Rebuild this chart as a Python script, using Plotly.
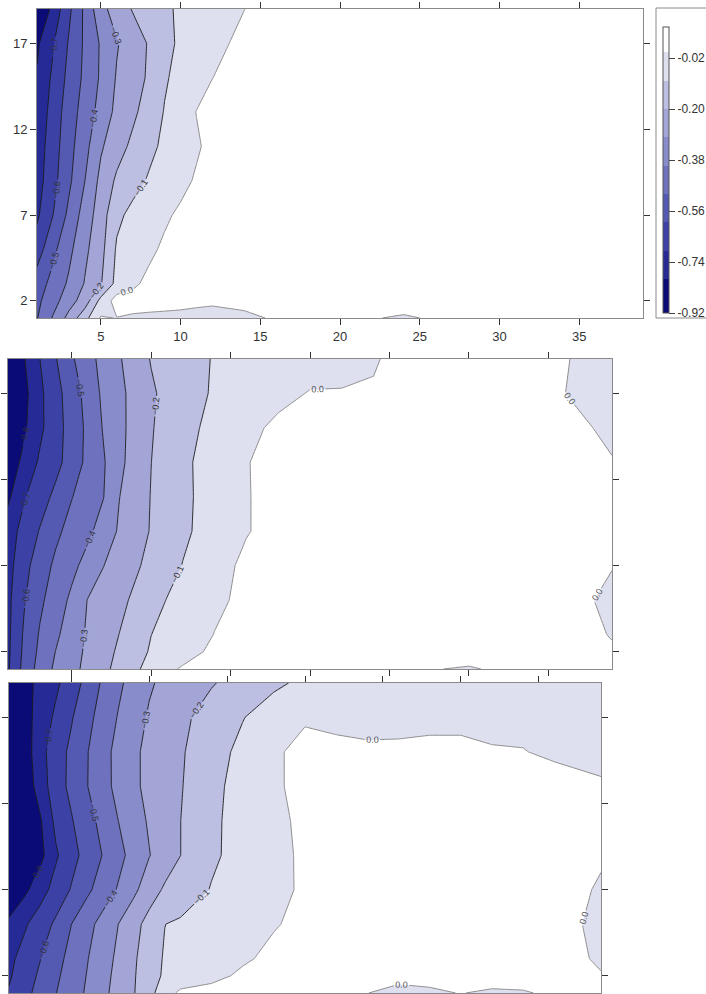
import plotly.graph_objects as go

# ---------------- data (grid nodes and estimated field values) ----------------
X_NODES = [1, 2, 3, 4, 5, 6, 7, 8, 9, 10, 11, 12, 14, 16, 18, 20, 22, 24, 26, 28, 30, 32, 34, 36, 39]
Y_NODES = [1, 2, 3, 5, 7, 9, 11, 13, 15, 17, 19]

Z_TOP = [
    [-0.505, -0.392, -0.269, -0.134, 0.008, -0.002, -0.010, -0.015, -0.020, -0.025, -0.030, -0.035, -0.015, 0.008, 0.020, 0.020, 0.005, -0.010, 0.010, 0.030, 0.040, 0.040, 0.040, 0.040, 0.040],
    [-0.523, -0.439, -0.343, -0.253, -0.070, 0.040, 0.030, 0.030, 0.030, 0.028, 0.020, 0.015, 0.020, 0.040, 0.050, 0.050, 0.045, 0.040, 0.050, 0.060, 0.060, 0.060, 0.060, 0.060, 0.060],
    [-0.550, -0.468, -0.385, -0.294, -0.208, -0.069, -0.016, 0.020, 0.040, 0.060, 0.070, 0.070, 0.070, 0.070, 0.070, 0.070, 0.070, 0.070, 0.070, 0.070, 0.070, 0.070, 0.070, 0.070, 0.070],
    [-0.650, -0.525, -0.426, -0.322, -0.233, -0.088, -0.054, -0.019, 0.015, 0.040, 0.060, 0.070, 0.080, 0.080, 0.080, 0.080, 0.080, 0.080, 0.080, 0.080, 0.080, 0.080, 0.080, 0.080, 0.080],
    [-0.717, -0.601, -0.477, -0.356, -0.250, -0.122, -0.074, -0.044, -0.014, 0.015, 0.040, 0.060, 0.080, 0.080, 0.080, 0.080, 0.080, 0.080, 0.080, 0.080, 0.080, 0.080, 0.080, 0.080, 0.080],
    [-0.744, -0.633, -0.520, -0.401, -0.273, -0.184, -0.135, -0.091, -0.058, -0.025, 0.010, 0.040, 0.070, 0.080, 0.080, 0.080, 0.080, 0.080, 0.080, 0.080, 0.080, 0.080, 0.080, 0.080, 0.080],
    [-0.753, -0.647, -0.535, -0.433, -0.313, -0.240, -0.179, -0.125, -0.081, -0.046, -0.011, 0.025, 0.060, 0.080, 0.080, 0.080, 0.080, 0.080, 0.080, 0.080, 0.080, 0.080, 0.080, 0.080, 0.080],
    [-0.776, -0.659, -0.550, -0.458, -0.365, -0.275, -0.220, -0.158, -0.095, -0.047, 0.002, 0.030, 0.060, 0.080, 0.080, 0.080, 0.080, 0.080, 0.080, 0.080, 0.080, 0.080, 0.080, 0.080, 0.080],
    [-0.790, -0.682, -0.572, -0.479, -0.387, -0.292, -0.242, -0.188, -0.111, -0.070, -0.036, -0.001, 0.040, 0.070, 0.080, 0.080, 0.080, 0.080, 0.080, 0.080, 0.080, 0.080, 0.080, 0.080, 0.080],
    [-0.816, -0.709, -0.591, -0.484, -0.390, -0.308, -0.250, -0.193, -0.128, -0.084, -0.056, -0.029, 0.026, 0.060, 0.080, 0.080, 0.080, 0.080, 0.080, 0.080, 0.080, 0.080, 0.080, 0.080, 0.080],
    [-0.914, -0.771, -0.621, -0.480, -0.333, -0.253, -0.194, -0.154, -0.115, -0.087, -0.065, -0.044, -0.001, 0.040, 0.060, 0.080, 0.080, 0.080, 0.080, 0.080, 0.080, 0.080, 0.080, 0.080, 0.080],
]

Z_MID = [
    [-0.712, -0.571, -0.462, -0.381, -0.328, -0.275, -0.223, -0.170, -0.116, -0.067, -0.019, 0.010, 0.030, 0.040, 0.040, 0.035, 0.025, 0.015, 0.008, 0.0015, -0.006, 0.010, 0.012, 0.008, 0.004],
    [-0.717, -0.581, -0.479, -0.398, -0.338, -0.283, -0.234, -0.185, -0.134, -0.091, -0.063, -0.036, 0.020, 0.035, 0.045, 0.050, 0.050, 0.045, 0.040, 0.035, 0.030, 0.020, 0.012, 0.006, 0.002],
    [-0.720, -0.589, -0.491, -0.418, -0.350, -0.288, -0.243, -0.199, -0.149, -0.101, -0.074, -0.049, 0.002, 0.030, 0.045, 0.050, 0.050, 0.050, 0.045, 0.040, 0.035, 0.025, 0.015, 0.008, -0.001],
    [-0.723, -0.609, -0.520, -0.450, -0.381, -0.298, -0.261, -0.223, -0.183, -0.139, -0.097, -0.070, -0.017, 0.020, 0.040, 0.050, 0.055, 0.055, 0.050, 0.045, 0.035, 0.025, 0.015, 0.010, -0.006],
    [-0.735, -0.633, -0.549, -0.481, -0.426, -0.366, -0.302, -0.258, -0.214, -0.174, -0.135, -0.097, -0.036, 0.020, 0.040, 0.050, 0.055, 0.055, 0.050, 0.045, 0.040, 0.035, 0.030, 0.020, 0.001],
    [-0.743, -0.669, -0.594, -0.521, -0.467, -0.422, -0.359, -0.288, -0.240, -0.194, -0.155, -0.117, -0.058, -0.005, 0.030, 0.050, 0.060, 0.060, 0.060, 0.055, 0.050, 0.045, 0.040, 0.030, 0.015],
    [-0.819, -0.709, -0.643, -0.577, -0.504, -0.453, -0.403, -0.302, -0.248, -0.197, -0.158, -0.120, -0.060, -0.005, 0.030, 0.050, 0.060, 0.060, 0.060, 0.055, 0.050, 0.045, 0.040, 0.030, 0.015],
    [-0.868, -0.772, -0.686, -0.630, -0.557, -0.476, -0.410, -0.324, -0.258, -0.201, -0.160, -0.119, -0.058, -0.004, 0.030, 0.050, 0.060, 0.060, 0.060, 0.055, 0.050, 0.045, 0.035, 0.025, 0.002],
    [-0.913, -0.817, -0.721, -0.639, -0.560, -0.480, -0.393, -0.326, -0.265, -0.207, -0.168, -0.131, -0.072, -0.025, 0.020, 0.035, 0.045, 0.050, 0.050, 0.050, 0.045, 0.035, 0.025, 0.012, -0.008],
    [-0.939, -0.830, -0.722, -0.633, -0.552, -0.465, -0.380, -0.323, -0.268, -0.214, -0.175, -0.143, -0.089, -0.058, -0.026, 0.005, 0.004, 0.004, 0.020, 0.030, 0.030, 0.025, 0.012, 0.001, -0.040],
    [-0.914, -0.807, -0.701, -0.606, -0.514, -0.436, -0.368, -0.309, -0.249, -0.195, -0.166, -0.137, -0.094, -0.076, -0.058, -0.040, -0.022, -0.004, 0.015, 0.030, 0.030, 0.025, 0.015, 0.004, -0.030],
]

Z_BOT = [
    [-0.692, -0.629, -0.566, -0.503, -0.446, -0.388, -0.325, -0.265, -0.206, -0.131, -0.045, 0.020, 0.030, 0.035, 0.030, 0.020, 0.010, 0.001, -0.020, -0.010, 0.002, -0.010, -0.005, 0.010, 0.004],
    [-0.712, -0.648, -0.584, -0.518, -0.457, -0.397, -0.334, -0.272, -0.210, -0.135, -0.088, -0.067, -0.024, 0.015, 0.030, 0.035, 0.035, 0.025, 0.020, 0.020, 0.030, 0.030, 0.025, 0.015, 0.002],
    [-0.724, -0.664, -0.603, -0.534, -0.469, -0.406, -0.344, -0.281, -0.216, -0.140, -0.092, -0.076, -0.044, -0.012, 0.020, 0.035, 0.040, 0.030, 0.020, 0.025, 0.030, 0.030, 0.030, 0.015, -0.005],
    [-0.775, -0.713, -0.650, -0.583, -0.501, -0.433, -0.367, -0.301, -0.233, -0.166, -0.101, -0.087, -0.060, -0.033, -0.006, 0.020, 0.035, 0.045, 0.050, 0.050, 0.045, 0.040, 0.030, 0.015, -0.010],
    [-0.903, -0.822, -0.741, -0.664, -0.593, -0.521, -0.456, -0.392, -0.322, -0.246, -0.187, -0.155, -0.095, -0.059, -0.022, 0.012, 0.035, 0.045, 0.050, 0.050, 0.045, 0.040, 0.035, 0.020, -0.005],
    [-0.930, -0.890, -0.830, -0.714, -0.635, -0.565, -0.498, -0.430, -0.366, -0.304, -0.252, -0.201, -0.115, -0.067, -0.026, 0.015, 0.040, 0.050, 0.055, 0.055, 0.055, 0.050, 0.040, 0.030, 0.005],
    [-0.930, -0.880, -0.812, -0.676, -0.608, -0.539, -0.470, -0.401, -0.343, -0.289, -0.245, -0.201, -0.117, -0.066, -0.023, 0.020, 0.045, 0.055, 0.060, 0.060, 0.060, 0.055, 0.050, 0.040, 0.020],
    [-0.920, -0.870, -0.751, -0.646, -0.576, -0.504, -0.436, -0.373, -0.318, -0.276, -0.241, -0.207, -0.125, -0.065, -0.015, 0.030, 0.050, 0.060, 0.060, 0.060, 0.055, 0.050, 0.040, 0.025, 0.008],
    [-0.900, -0.855, -0.734, -0.648, -0.578, -0.506, -0.435, -0.372, -0.317, -0.277, -0.244, -0.211, -0.140, -0.075, -0.020, 0.040, 0.015, 0.008, 0.009, 0.014, 0.014, 0.004, 0.002, -0.010, -0.020],
    [-0.918, -0.839, -0.760, -0.682, -0.609, -0.531, -0.460, -0.395, -0.340, -0.290, -0.256, -0.222, -0.161, -0.104, -0.050, -0.015, -0.015, -0.015, -0.015, -0.015, -0.015, -0.015, -0.015, -0.020, -0.025],
    [-0.888, -0.831, -0.775, -0.719, -0.650, -0.570, -0.487, -0.420, -0.363, -0.311, -0.280, -0.256, -0.207, -0.162, -0.118, -0.080, -0.060, -0.045, -0.040, -0.040, -0.040, -0.040, -0.040, -0.040, -0.040],
]

LEVEL_START = -0.8
LEVEL_END = 0.0
LEVEL_STEP = 0.1
CBAR_MIN = -0.92
CBAR_MAX = 0.09
CBAR_TICKS = [-0.92, -0.74, -0.56, -0.38, -0.20, -0.02]
CBAR_TEXT = ["-0.92", "-0.74", "-0.56", "-0.38", "-0.20", "-0.02"]
X_TICKS = [5, 10, 15, 20, 25, 30, 35]
Y_TICKS = [2, 7, 12, 17]

# ---------------- styles ----------------
BAND_COLORS = [
    "rgb(11,11,120)", "rgb(38,42,150)", "rgb(60,65,165)", "rgb(84,89,178)",
    "rgb(110,114,190)", "rgb(136,140,202)", "rgb(162,165,214)", "rgb(188,190,226)",
    "rgb(222,224,240)", "rgb(255,255,255)",
]
n_b = len(BAND_COLORS)
fill_scale = [[k / (n_b - 1), c] for k, c in enumerate(BAND_COLORS)]

# stepped scale for the colour bar
bounds = [CBAR_MIN] + [round(LEVEL_START + i * LEVEL_STEP, 2) for i in range(n_b - 1)] + [CBAR_MAX]
span = CBAR_MAX - CBAR_MIN
cbar_scale = []
for k, c in enumerate(BAND_COLORS):
    cbar_scale.append([(bounds[k] - CBAR_MIN) / span, c])
    cbar_scale.append([(bounds[k + 1] - CBAR_MIN) / span, c])
cbar_scale[0][0] = 0.0
cbar_scale[-1][0] = 1.0

W, H = 706, 994
# panel pixel boxes (left, right, top, bottom)
PANELS = [(37, 643, 9, 318), (8, 612, 359, 669), (9, 601, 683, 993)]

fig = go.Figure()
Z_ALL = [Z_TOP, Z_MID, Z_BOT]
for i, z in enumerate(Z_ALL):
    xa = "x" if i == 0 else f"x{i+1}"
    ya = "y" if i == 0 else f"y{i+1}"
    fig.add_trace(go.Contour(
        x=X_NODES, y=Y_NODES, z=z, xaxis=xa, yaxis=ya,
        autocontour=False,
        contours=dict(start=LEVEL_START, end=LEVEL_END, size=LEVEL_STEP, coloring="fill", showlines=False),
        colorscale=fill_scale, showscale=False, line=dict(width=0, smoothing=0),
        hoverinfo="skip",
    ))
    fig.add_trace(go.Contour(
        x=X_NODES, y=Y_NODES, z=z, xaxis=xa, yaxis=ya,
        autocontour=False,
        contours=dict(start=LEVEL_START, end=LEVEL_END - LEVEL_STEP, size=LEVEL_STEP, coloring="none",
                      showlabels=True, labelformat=".1f",
                      labelfont=dict(family="Liberation Sans", size=9, color="#333")),
        line=dict(color="#1c1c1c", width=0.9, smoothing=0),
        showscale=False, hoverinfo="skip",
    ))
    fig.add_trace(go.Contour(
        x=X_NODES, y=Y_NODES, z=z, xaxis=xa, yaxis=ya,
        autocontour=False,
        contours=dict(start=LEVEL_END, end=LEVEL_END, size=LEVEL_STEP, coloring="none",
                      showlabels=True, labelformat=".1f",
                      labelfont=dict(family="Liberation Sans", size=9, color="#555")),
        line=dict(color="#8e8e8e", width=1.0, smoothing=0),
        showscale=False, hoverinfo="skip",
    ))

# colour bar carrier (no visible points)
fig.add_trace(go.Scatter(
    x=[None], y=[None], mode="markers", xaxis="x", yaxis="y", hoverinfo="skip", showlegend=False,
    marker=dict(color=[CBAR_MIN], cmin=CBAR_MIN, cmax=CBAR_MAX, colorscale=cbar_scale, showscale=True,
                colorbar=dict(
                    x=663 / W, xanchor="left", xpad=0, ypad=0,
                    y=1 - 170 / H, yanchor="middle", len=286 / H, lenmode="fraction",
                    thickness=6, outlinewidth=1, outlinecolor="#555",
                    tickvals=CBAR_TICKS, ticktext=CBAR_TEXT, ticks="outside", ticklen=6,
                    tickcolor="#444",
                    tickfont=dict(family="Liberation Sans", size=12, color="#333"),
                    borderwidth=0,
                )),
))

axis_common = dict(showline=True, linecolor="#8a8a8a", linewidth=1, mirror="ticks",
                   ticks="outside", ticklen=6, tickcolor="#333", tickwidth=1,
                   showgrid=False, zeroline=False,
                   tickfont=dict(family="Liberation Sans", size=13, color="#333"))

layout = dict(width=W, height=H, margin=dict(l=0, r=0, t=0, b=0, autoexpand=False),
              paper_bgcolor="white", plot_bgcolor="white", showlegend=False)
for i, (l, r, t, b) in enumerate(PANELS):
    xk = "xaxis" if i == 0 else f"xaxis{i+1}"
    yk = "yaxis" if i == 0 else f"yaxis{i+1}"
    ya = "y" if i == 0 else f"y{i+1}"
    xa = "x" if i == 0 else f"x{i+1}"
    layout[xk] = dict(axis_common, domain=[l / W, r / W], range=[1, 39], anchor=ya,
                      tickvals=X_TICKS, showticklabels=(i == 0))
    layout[yk] = dict(axis_common, domain=[1 - b / H, 1 - t / H], range=[1, 19], anchor=xa,
                      tickvals=Y_TICKS, showticklabels=(i == 0))
fig.update_layout(**layout)

# frame around the colour bar
fig.add_shape(type="rect", xref="paper", yref="paper",
              x0=656 / W, x1=1.02, y0=1 - 318 / H, y1=1 - 8 / H,
              line=dict(color="#8a8a8a", width=1))

fig.write_html("out.html")
